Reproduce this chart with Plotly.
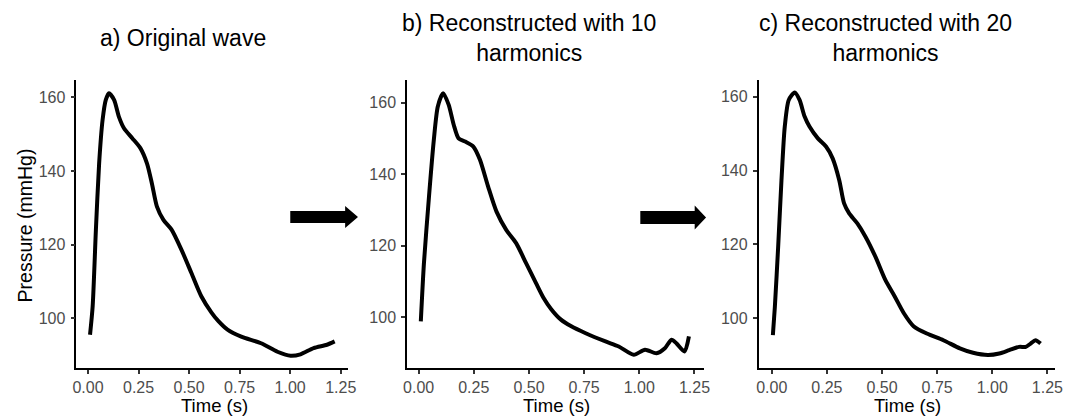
import plotly.graph_objects as go

# ---- data ----
t_a = [0.01, 0.023, 0.039, 0.055, 0.072, 0.088, 0.104, 0.129, 0.153, 0.178, 0.219, 0.259, 0.292,
       0.316, 0.341, 0.373, 0.414, 0.463, 0.512, 0.561, 0.61, 0.645, 0.69, 0.758, 0.856, 0.937,
       1.002, 1.051, 1.116, 1.182, 1.22]
p_a = [95.5, 103.2, 124, 142, 153.8, 159.3, 161.1, 159.3, 154.7, 151.6, 148.9, 146.2, 142,
       136.6, 130.3, 126.7, 124, 118.5, 112.2, 105.9, 101.6, 99.2, 96.9, 95.0, 93.2, 90.9,
       89.8, 90.2, 91.9, 92.8, 93.7]

t_b = [0.01, 0.024, 0.047, 0.069, 0.087, 0.111, 0.136, 0.159, 0.181, 0.211, 0.248, 0.278, 0.315,
       0.353, 0.397, 0.442, 0.487, 0.532, 0.565, 0.6, 0.645, 0.69, 0.757, 0.847, 0.907, 0.975,
       1.026, 1.078, 1.116, 1.146, 1.168, 1.205, 1.225]
p_b = [98.8, 115, 133.7, 149.6, 158.9, 162.6, 159.4, 153.8, 150, 149.1, 147.7, 144, 136.5,
       129.5, 124.4, 120.7, 115.1, 109.5, 105.5, 102.3, 99.3, 97.5, 95.5, 93.2, 91.8, 89.5,
       90.9, 89.9, 91.3, 93.7, 92.7, 90.4, 94.6]

t_c = [0.005, 0.014, 0.029, 0.044, 0.059, 0.077, 0.104, 0.126, 0.149, 0.171, 0.209, 0.246, 0.276,
       0.306, 0.328, 0.351, 0.388, 0.425, 0.47, 0.515, 0.557, 0.599, 0.643, 0.703, 0.778, 0.853,
       0.913, 0.98, 1.032, 1.077, 1.122, 1.152, 1.174, 1.196, 1.219]
p_c = [95.5, 103.1, 119.4, 137.4, 151.9, 159.1, 161.1, 159.1, 154.6, 151.9, 148.7, 146.5, 143.3,
       137.4, 131.1, 128.4, 125.7, 122.1, 116.7, 110.4, 106, 101.4, 97.9, 95.9, 94.1, 91.9,
       90.7, 90.1, 90.5, 91.4, 92.3, 92.3, 93.2, 94.1, 93.2]

titles = ["a) Original wave", "b) Reconstructed with 10<br>harmonics", "c) Reconstructed with 20<br>harmonics"]
x_ticks = [0.0, 0.25, 0.5, 0.75, 1.0, 1.25]
x_ticktext = ["0.00", "0.25", "0.50", "0.75", "1.00", "1.25"]
y_ticks = [100, 120, 140, 160]
x_title = "Time (s)"
y_title = "Pressure (mmHg)"

W, H = 1073, 419
FONT = "Liberation Sans, Arial, sans-serif"

def px(x):
    return x / W

def py(y):
    return 1 - y / H

panels = [
    dict(t=t_a, p=p_a, dom=(73.3, 348.3), xr=[-0.057, 1.288], yr=[86.4, 164.7], tc=181.5, xc=212.5),
    dict(t=t_b, p=p_b, dom=(407.7, 708.3), xr=[-0.052, 1.295], yr=[85.7, 166.3], tc=531.0, xc=558.3),
    dict(t=t_c, p=p_c, dom=(763.3, 1063.0), xr=[-0.059, 1.285], yr=[86.5, 164.5], tc=891.7, xc=913.3),
]

fig = go.Figure()
layout = dict(
    width=W, height=H,
    margin=dict(l=0, r=0, t=0, b=0),
    paper_bgcolor="white", plot_bgcolor="white",
    showlegend=False,
    font=dict(family=FONT, color="black"),
)
annotations = []
for i, pn in enumerate(panels):
    n = "" if i == 0 else str(i + 1)
    fig.add_trace(go.Scatter(
        x=pn["t"], y=pn["p"], mode="lines",
        line=dict(color="black", width=4, shape="spline", smoothing=0.7),
        xaxis="x" + n, yaxis="y" + n, hoverinfo="skip",
    ))
    axis_common = dict(
        showline=True, linecolor="black", linewidth=1.8, mirror=False,
        showgrid=False, zeroline=False,
        ticks="outside", ticklen=4, tickwidth=1.5, tickcolor="#333333",
        tickfont=dict(family=FONT, size=16, color="#4D4D4D"),
    )
    layout["xaxis" + n] = dict(
        axis_common, domain=[px(pn["dom"][0]), px(pn["dom"][1])], range=pn["xr"],
        tickvals=x_ticks, ticktext=x_ticktext, anchor="y" + n, ticklabelstandoff=0,
    )
    layout["yaxis" + n] = dict(
        axis_common, domain=[py(368.3), py(80)], range=pn["yr"],
        tickvals=y_ticks, anchor="x" + n, ticklabelstandoff=2,
    )
    annotations.append(dict(
        text=titles[i], x=px(pn["tc"]), y=py(38), xref="paper", yref="paper",
        xanchor="center", yanchor="middle", showarrow=False,
        font=dict(family=FONT, size=23, color="black"),
    ))
    annotations.append(dict(
        text=x_title, x=px(pn["xc"]), y=py(405), xref="paper", yref="paper",
        xanchor="center", yanchor="middle", showarrow=False,
        font=dict(family=FONT, size=18.5, color="black"),
    ))

annotations.append(dict(
    text=y_title, x=px(21.7), y=py(225), xref="paper", yref="paper",
    xanchor="center", yanchor="middle", showarrow=False, textangle=-90,
    font=dict(family=FONT, size=19.5, color="black"),
))
layout["annotations"] = annotations

def arrow_path(x0, x1, x2, yc, hs, hh):
    return (f"M {px(x0)} {py(yc - hs)} L {px(x1)} {py(yc - hs)} L {px(x1)} {py(yc - hh)} "
            f"L {px(x2)} {py(yc)} L {px(x1)} {py(yc + hh)} L {px(x1)} {py(yc + hs)} "
            f"L {px(x0)} {py(yc + hs)} Z")

layout["shapes"] = [
    dict(type="path", xref="paper", yref="paper", path=arrow_path(289.5, 345, 358, 217, 6, 11),
         fillcolor="black", line=dict(width=0)),
    dict(type="path", xref="paper", yref="paper", path=arrow_path(643.5, 698.5, 710, 217.5, 6.5, 12),
         fillcolor="black", line=dict(width=0)),
]

fig.update_layout(**layout)
fig.write_html("out.html")
